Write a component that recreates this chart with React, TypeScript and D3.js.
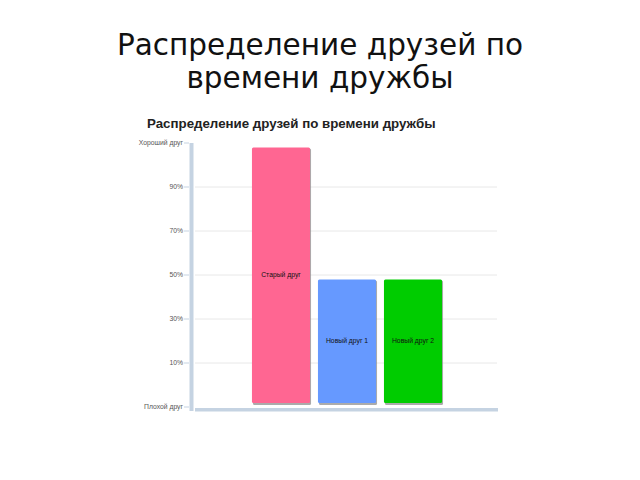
import { useEffect, useRef } from "react";
import { select, scaleBand, scaleLinear } from "d3";

// chart data
const categories = ["Старый друг", "Новый друг 1", "Новый друг 2"];
const values = [118, 58, 58];
const colors = ["#ff6692", "#6699ff", "#00cc00"];
const tickValues = [0, 20, 40, 60, 80, 100, 120];
const tickLabels = ["Плохой друг", "10%", "30%", "50%", "70%", "90%", "Хороший друг"];

const W = 640;
const H = 480;

export default function App() {
  const svgRef = useRef<SVGSVGElement>(null);

  useEffect(() => {
    const svg = select(svgRef.current);
    svg.selectAll("*").remove();

    // slide title
    const title = svg
      .append("text")
      .attr("text-anchor", "middle")
      .attr("font-family", "DejaVu Sans")
      .attr("font-size", 29.5)
      .attr("fill", "#111");
    title.append("tspan").attr("x", 320).attr("y", 55).text("Распределение друзей по");
    title.append("tspan").attr("x", 320).attr("y", 88).text("времени дружбы");

    // chart title
    svg
      .append("text")
      .attr("x", 147)
      .attr("y", 128)
      .attr("font-family", "Liberation Sans, Arial")
      .attr("font-weight", "bold")
      .attr("font-size", 13.3)
      .attr("fill", "#222")
      .text("Распределение друзей по времени дружбы");

    const y = scaleLinear().domain([0, 120]).range([407, 143]);
    const x = scaleBand()
      .domain(categories)
      .range([248, 446])
      .paddingInner(0.12)
      .paddingOuter(0.06);

    // gridlines
    svg
      .selectAll(".grid")
      .data(tickValues.slice(1, -1))
      .join("line")
      .attr("x1", 195)
      .attr("x2", 497)
      .attr("y1", (d: number) => y(d))
      .attr("y2", (d: number) => y(d))
      .attr("stroke", "#e8e8e8")
      .attr("stroke-width", 1);

    // axis bars
    svg
      .append("rect")
      .attr("x", 189.5)
      .attr("y", y(120))
      .attr("width", 4)
      .attr("height", y(0) - y(120) + 4)
      .attr("fill", "#c5d3e2");
    svg
      .append("rect")
      .attr("x", 195)
      .attr("y", y(0) + 1)
      .attr("width", 303)
      .attr("height", 3.5)
      .attr("fill", "#c5d3e2");

    // tick marks and labels
    svg
      .selectAll(".tick")
      .data(tickValues)
      .join("line")
      .attr("x1", 184)
      .attr("x2", 189)
      .attr("y1", (d: number) => y(d))
      .attr("y2", (d: number) => y(d))
      .attr("stroke", "#c5d3e2")
      .attr("stroke-width", 1);
    svg
      .selectAll(".tlabel")
      .data(tickValues)
      .join("text")
      .attr("x", 183)
      .attr("y", (d: number) => y(d) + 2)
      .attr("text-anchor", "end")
      .attr("font-family", "Liberation Sans, Arial")
      .attr("font-size", 6.8)
      .attr("fill", "#555")
      .text((_: number, i: number) => tickLabels[i]);

    const base = y(0) - 4;

    // bar shadows
    svg
      .selectAll(".shadow")
      .data(values)
      .join("rect")
      .attr("x", (_: number, i: number) => (x(categories[i]) ?? 0) + 1)
      .attr("y", (d: number) => y(d) + 1)
      .attr("width", x.bandwidth())
      .attr("height", (d: number) => base - y(d) + 1)
      .attr("rx", 1.5)
      .attr("fill", "#888")
      .attr("opacity", 0.7);

    // bars
    svg
      .selectAll(".bar")
      .data(values)
      .join("rect")
      .attr("x", (_: number, i: number) => x(categories[i]) ?? 0)
      .attr("y", (d: number) => y(d))
      .attr("width", x.bandwidth())
      .attr("height", (d: number) => base - y(d))
      .attr("rx", 1.5)
      .attr("fill", (_: number, i: number) => colors[i]);

    // bar labels
    svg
      .selectAll(".blabel")
      .data(values)
      .join("text")
      .attr("x", (_: number, i: number) => (x(categories[i]) ?? 0) + x.bandwidth() / 2)
      .attr("y", (d: number) => (y(d) + base) / 2 + 2)
      .attr("text-anchor", "middle")
      .attr("font-family", "Liberation Sans, Arial")
      .attr("font-size", 6.8)
      .attr("fill", "#111")
      .text((_: number, i: number) => categories[i]);
  }, []);

  return (
    <svg
      ref={svgRef}
      width={W}
      height={H}
      style={{ position: "absolute", left: 0, top: 0, background: "#fff" }}
    />
  );
}
